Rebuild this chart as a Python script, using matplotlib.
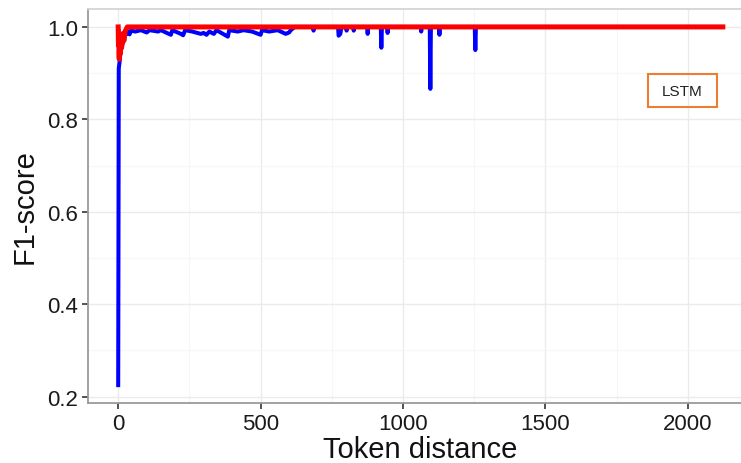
import matplotlib
matplotlib.use("Agg")
import matplotlib.pyplot as plt
import matplotlib.patches as mpatches
from matplotlib.ticker import MultipleLocator

plt.rcParams['font.family'] = ['Liberation Sans', 'DejaVu Sans']

# blue series
blue_x = [0, 1, 2, 5, 8, 12, 16, 20, 25, 30, 35, 40, 45, 60, 80, 100, 110, 140, 150,
          185, 190, 220, 228, 235, 260, 290, 300, 310, 320, 336, 345, 385, 390, 420,
          440, 470, 500, 505, 530, 560, 588, 600, 606, 620,
          684, 686, 688, 772, 774, 780, 784, 800, 802, 804, 825, 827, 829,
          874, 876, 878, 922, 924, 926, 944, 946, 948, 1062, 1064, 1066,
          1094, 1096, 1098, 1126, 1128, 1130, 1252, 1254, 1256, 2123]
blue_y = [0.225, 0.54, 0.91, 0.925, 0.945, 0.955, 0.965, 0.975, 0.983, 0.985, 0.99,
          0.984, 0.992, 0.99, 0.993, 0.988, 0.993, 0.99, 0.993,
          0.983, 0.993, 0.985, 0.982, 0.993, 0.99, 0.985, 0.987, 0.983, 0.99, 0.985,
          0.993, 0.979, 0.993, 0.99, 0.993, 0.99, 0.983, 0.993, 0.99, 0.993, 0.985,
          0.988, 0.993, 1.0,
          1.0, 0.992, 1.0, 1.0, 0.981, 0.985, 1.0, 1.0, 0.992, 1.0, 1.0, 0.992, 1.0,
          1.0, 0.985, 1.0, 1.0, 0.955, 1.0, 1.0, 0.987, 1.0, 1.0, 0.99, 1.0,
          1.0, 0.866, 1.0, 1.0, 0.983, 1.0, 1.0, 0.95, 1.0, 1.0]

# red series
red_x = [0, 1, 2, 3, 4, 5, 6, 8, 10, 12, 14, 17, 20, 24, 28, 32, 2123]
red_y = [1.0, 0.96, 0.99, 0.935, 0.93, 0.97, 0.94, 0.95, 0.975, 0.955, 0.97,
         0.985, 0.97, 0.99, 0.995, 1.0, 1.0]

fig = plt.figure(figsize=(7.41, 4.64), dpi=100)
ax = fig.add_axes([88/741, 60/464, 667/741, 394/464])

ax.plot(blue_x, blue_y, color='#0000ff', lw=2.9, solid_joinstyle='round')
ax.plot(red_x, red_y, color='#ff0000', lw=3.6, solid_joinstyle='round')

ax.set_xlim(-106, 2236)
ax.set_ylim(0.1863, 1.0388)
ax.xaxis.set_major_locator(MultipleLocator(500))
ax.xaxis.set_minor_locator(MultipleLocator(250))
ax.yaxis.set_major_locator(MultipleLocator(0.2))
ax.yaxis.set_minor_locator(MultipleLocator(0.1))
ax.set_yticks([0.2, 0.4, 0.6, 0.8, 1.0])
ax.set_yticklabels(['0.2', '0.4', '0.6', '0.8', '1.0'])

ax.grid(which='major', color='#ebebeb', lw=1.0)
ax.grid(which='minor', color='#f6f6f6', lw=0.8)
ax.set_axisbelow(True)

for s in ['top', 'right']:
    ax.spines[s].set_color('#d4d4d4')
for s in ['left', 'bottom']:
    ax.spines[s].set_color('#9a9a9a')
for s in ax.spines.values():
    s.set_linewidth(1.3)

ax.tick_params(which='major', length=4, width=1.3, color='#444444',
               labelsize=16, labelcolor='#1a1a1a', pad=3)
ax.tick_params(which='minor', length=0)

ax.set_xlabel('Token distance', fontsize=21, color='#111111')
ax.set_ylabel('F1-score', fontsize=21, color='#111111', labelpad=6)
ax.xaxis.set_label_coords((420 - 88) / 667, -0.082)

# LSTM label box
box = mpatches.Rectangle((648/741, (464-108)/464), 69/741, 33/464,
                         transform=fig.transFigure, fill=False,
                         edgecolor='#ed7d31', lw=1.5)
fig.patches.append(box)
fig.text(682.5/741, (464-91.5)/464, 'LSTM', ha='center', va='center',
         fontsize=11, color='#222222')

fig.savefig('out.png', dpi=100)
